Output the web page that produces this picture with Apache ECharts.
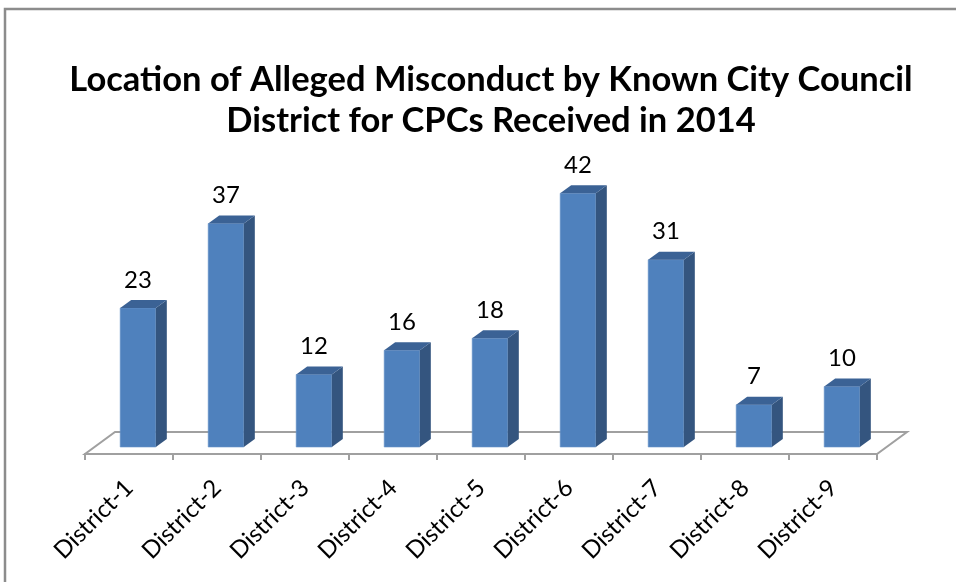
<!DOCTYPE html>
<html>
<head>
<meta charset="utf-8">
<script src="https://cdn.jsdelivr.net/npm/echarts@6/dist/echarts.min.js"></script>
<style>
  html, body { margin: 0; padding: 0; background: #fff; }
  #chart { width: 956px; height: 582px; }
</style>
</head>
<body>
<div id="chart"></div>
<script>
var titleText = 'Location of Alleged Misconduct by Known City Council\nDistrict for CPCs Received in 2014';
var districts = ['District-1', 'District-2', 'District-3', 'District-4', 'District-5',
                 'District-6', 'District-7', 'District-8', 'District-9'];
var complaints = [23, 37, 12, 16, 18, 42, 31, 7, 10];

// fake 3d look: floor depth and bar depth, in pixels
var FLOOR_DX = 30, FLOOR_DY = 22;
var BAR_SHIFT_X = 9, BAR_LIFT = 7;
var BAR_DX = 11, BAR_DY = 8;

function renderBar(params, api){
	var i = api.value(0);
	var v = api.value(1);
	var base = api.coord([i, 0]);
	var top = api.coord([i, v]);
	var band = api.size([1, 0])[0];
	var w = band * 0.405;
	var cx = base[0] + BAR_SHIFT_X;
	var y0 = base[1] - BAR_LIFT;
	var y1 = top[1] - BAR_LIFT;
	var l = cx - w / 2, r = cx + w / 2;
	return {
		type: 'group',
		children: [
			{
				type: 'rect',
				shape: { x: l, y: y1, width: w, height: y0 - y1 },
				style: { fill: '#4F81BD', stroke: '#6A96CB', lineWidth: 0.6 }
			},
			{
				type: 'polygon',
				shape: { points: [[r, y0], [r + BAR_DX, y0 - BAR_DY], [r + BAR_DX, y1 - BAR_DY], [r, y1]] },
				style: { fill: '#34557F' }
			},
			{
				type: 'polygon',
				shape: { points: [[l, y1], [l + BAR_DX, y1 - BAR_DY], [r + BAR_DX, y1 - BAR_DY], [r, y1]] },
				style: { fill: '#3B6295' }
			},
			{
				type: 'text',
				style: {
					x: cx, y: y1 - BAR_DY - 8,
					text: String(v),
					align: 'center', verticalAlign: 'bottom',
					fontFamily: 'Lato', fontSize: 24, fill: '#000'
				}
			}
		]
	};
}

function renderFloor(params, api){
	var c0 = api.coord([0, 0]);
	var band = api.size([1, 0])[0];
	var left = c0[0] - band / 2;
	var right = left + band * districts.length;
	var y = c0[1];
	return {
		type: 'polygon',
		shape: { points: [[left, y], [right, y], [right + FLOOR_DX, y - FLOOR_DY], [left + FLOOR_DX, y - FLOOR_DY]] },
		style: { fill: 'none', stroke: '#A0A0A0', lineWidth: 2 },
		z2: 0
	};
}

var myChart = echarts.init(document.getElementById('chart'));
var option = {
	animation: false,
	backgroundColor: '#fff',
	title: {
		text: titleText,
		left: 486,
		top: 54,
		textAlign: 'center',
		textStyle: { fontFamily: 'Lato', fontWeight: 'bold', fontSize: 34.5, lineHeight: 41, color: '#000' }
	},
	graphic: [{
		type: 'rect',
		shape: { x: 5, y: 9, width: 960, height: 590 },
		style: { fill: 'none', stroke: '#8C8C8C', lineWidth: 2.5 },
		silent: true
	}],
	grid: { left: 85, right: 79, top: 152, bottom: 128 },
	xAxis: {
		type: 'category',
		data: districts,
		axisLine: { show: true, lineStyle: { color: '#A0A0A0', width: 2 } },
		axisTick: { show: true, length: 6, lineStyle: { color: '#A0A0A0', width: 2 } },
		axisLabel: { rotate: 45, margin: 30, fontFamily: 'Lato', fontSize: 24, color: '#000' }
	},
	yAxis: {
		type: 'value',
		min: 0, max: 50,
		show: false
	},
	series: [
		{
			type: 'custom',
			renderItem: renderFloor,
			data: [[0, 0]],
			z: 1,
			silent: true
		},
		{
			type: 'custom',
			renderItem: renderBar,
			data: complaints.map(function(v, i){ return [i, v]; }),
			z: 2
		}
	]
};
myChart.setOption(option);
</script>
</body>
</html>
